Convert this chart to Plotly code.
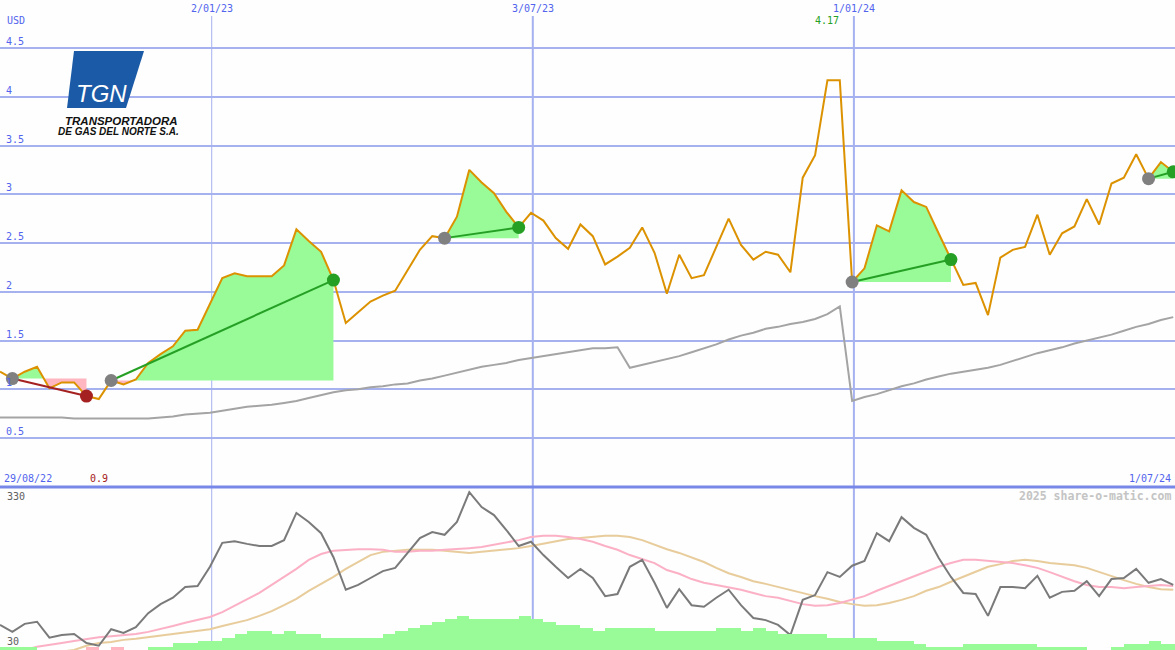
import plotly.graph_objects as go
import pandas as pd

W, H = 1175, 650

# ---------------- data (weekly) ----------------
dates = pd.date_range("2022-09-04", periods=96, freq="7D")

price = [1.18, 1.11, 1.18, 1.23, 1.01, 1.07, 1.07, 0.93, 0.90, 1.09,
         1.05, 1.10, 1.27, 1.36, 1.44, 1.60, 1.61, 1.88, 2.14, 2.19,
         2.16, 2.16, 2.16, 2.27, 2.64, 2.52, 2.41, 2.12, 1.68, 1.79,
         1.90, 1.96, 2.01, 2.22, 2.43, 2.57, 2.55, 2.77, 3.25, 3.12,
         3.01, 2.82, 2.66, 2.81, 2.73, 2.55, 2.44, 2.69, 2.57, 2.28,
         2.36, 2.45, 2.66, 2.40, 1.98, 2.38, 2.14, 2.17, 2.46, 2.75,
         2.48, 2.33, 2.41, 2.38, 2.20, 3.17, 3.40, 4.17, 4.17, 2.10,
         2.24, 2.68, 2.62, 3.04, 2.92, 2.87, 2.60, 2.33, 2.07, 2.09,
         1.76, 2.35, 2.43, 2.46, 2.79, 2.38, 2.60, 2.67, 2.95, 2.69,
         3.11, 3.17, 3.41, 3.16, 3.33, 3.23]

price_ma = [0.71, 0.71, 0.71, 0.71, 0.71, 0.71, 0.70, 0.70, 0.70, 0.70,
            0.70, 0.70, 0.70, 0.71, 0.72, 0.74, 0.75, 0.76, 0.78, 0.80,
            0.82, 0.83, 0.84, 0.86, 0.88, 0.91, 0.94, 0.97, 0.99, 1.00,
            1.02, 1.03, 1.05, 1.06, 1.09, 1.11, 1.14, 1.17, 1.20, 1.23,
            1.25, 1.27, 1.30, 1.32, 1.34, 1.36, 1.38, 1.40, 1.42, 1.42,
            1.43, 1.22, 1.25, 1.28, 1.31, 1.34, 1.38, 1.42, 1.46, 1.51,
            1.55, 1.58, 1.62, 1.64, 1.67, 1.69, 1.72, 1.77, 1.85, 0.88,
            0.92, 0.95, 0.99, 1.03, 1.06, 1.10, 1.13, 1.16, 1.18, 1.20,
            1.22, 1.25, 1.29, 1.33, 1.37, 1.40, 1.43, 1.47, 1.50, 1.53,
            1.56, 1.60, 1.64, 1.67, 1.71, 1.74]

indicator = [77, 64, 79, 83, 53, 58, 60, 43, 38, 69,
             62, 73, 99, 116, 128, 148, 150, 186, 231, 234,
             229, 225, 225, 236, 287, 270, 249, 204, 143, 152,
             165, 178, 184, 212, 240, 251, 246, 270, 326, 298,
             283, 255, 225, 233, 208, 186, 165, 182, 165, 131,
             135, 186, 199, 156, 109, 144, 114, 111, 128, 143,
             114, 90, 86, 77, 58, 124, 133, 176, 167, 188,
             197, 249, 234, 279, 259, 246, 203, 167, 137, 135,
             94, 148, 148, 146, 169, 128, 139, 141, 159, 131,
             163, 165, 182, 156, 163, 152]

ind_ma_short = [11, 21, 30, 36, 39, 43, 47, 51, 54, 56,
                58, 60, 64, 69, 75, 81, 86, 92, 101, 113,
                126, 137, 152, 167, 182, 199, 210, 216, 218, 219,
                219, 218, 214, 214, 216, 216, 218, 219, 221, 223,
                227, 231, 236, 242, 244, 244, 242, 238, 233, 225,
                218, 208, 201, 193, 180, 173, 163, 156, 152, 148,
                143, 137, 131, 128, 122, 116, 113, 114, 118, 124,
                131, 141, 150, 158, 167, 176, 186, 193, 199, 199,
                197, 195, 193, 189, 184, 176, 167, 159, 152, 148,
                148, 146, 148, 150, 152, 150]

ind_ma_long = [2, 9, 15, 21, 24, 28, 30, 38, 43, 45,
               49, 51, 54, 58, 60, 64, 66, 69, 75, 81,
               86, 94, 103, 114, 126, 141, 154, 167, 182, 195,
               208, 214, 216, 218, 218, 218, 216, 214, 212, 214,
               216, 218, 221, 225, 229, 233, 238, 240, 242, 244,
               244, 242, 236, 227, 219, 212, 204, 195, 184, 174,
               167, 159, 154, 148, 143, 137, 131, 126, 120, 116,
               113, 114, 118, 124, 131, 141, 148, 158, 167, 176,
               186, 191, 197, 199, 197, 193, 191, 189, 184, 176,
               169, 161, 154, 148, 144, 143]

volume = [3, 3, 3, 0, 0, 0, 0, 3, 0, 3,
          0, 0, 3, 3, 7, 7, 9, 9, 12, 16,
          19, 19, 16, 19, 16, 16, 12, 12, 12, 12,
          12, 16, 19, 22, 25, 28, 31, 34, 31, 31,
          31, 31, 34, 31, 28, 25, 25, 22, 19, 22,
          22, 22, 22, 19, 19, 19, 19, 19, 22, 22,
          19, 22, 19, 16, 16, 16, 16, 12, 12, 12,
          12, 9, 9, 9, 6, 3, 3, 3, 6, 6,
          6, 6, 6, 6, 3, 3, 3, 3, 0, 0,
          3, 6, 6, 9, 6, 6]
down_weeks = [7, 9]

trade_buy = [1, 9, 36, 69, 93]
trade_sell = [7, 27, 42, 77, 95]

y_ticks = [4.5, 4, 3.5, 3, 2.5, 2, 1.5, 1, 0.5]
y_tick_labels = ["4.5", "4", "3.5", "3", "2.5", "2", "1.5", "1", "0.5"]
x_ticks = ["2023-01-02", "2023-07-03", "2024-01-01"]
x_tick_labels = ["2/01/23", "3/07/23", "1/01/24"]
x_tick_widths = [1, 2, 2]

# ---------------- styles ----------------
BG = "#fdfefd"
GRID = "#a6b2f0"
BLUE = "#5264ee"
ORANGE = "#dc9200"
GREENFILL = "#98fb98"
PINKFILL = "#ffb6c1"
GREEN = "#25a025"
RED = "#a52020"
GRAYDOT = "#808080"
MONO = "DejaVu Sans Mono"


def py(y):
    return 1 - y / H


def pxx(x):
    return x / W


fig = go.Figure()

# trade fills
for b, s in zip(trade_buy, trade_sell):
    L = price[b]
    xs, hi, lo = [], [], []
    for k in range(b, s + 1):
        if k > b:
            p0, p1 = price[k - 1], price[k]
            if (p0 - L) * (p1 - L) < 0:
                t = (L - p0) / (p1 - p0)
                xc = dates[k - 1] + (dates[k] - dates[k - 1]) * t
                xs.append(xc)
                hi.append(L)
                lo.append(L)
        xs.append(dates[k])
        hi.append(max(price[k], L))
        lo.append(min(price[k], L))
    for ys, col in ((hi, GREENFILL), (lo, PINKFILL)):
        fig.add_trace(go.Scatter(
            x=list(xs) + list(xs[::-1]), y=ys + [L] * len(xs),
            fill="toself", fillcolor=col, mode="lines",
            line=dict(width=0, color=col), hoverinfo="skip"))

# long moving average of price
fig.add_trace(go.Scatter(x=dates, y=price_ma, mode="lines",
                         line=dict(color="#a4a4a4", width=2)))
# price
fig.add_trace(go.Scatter(x=dates, y=price, mode="lines",
                         line=dict(color=ORANGE, width=2)))

# trade lines and dots
for b, s in zip(trade_buy, trade_sell):
    win = price[s] >= price[b]
    col = GREEN if win else RED
    fig.add_trace(go.Scatter(x=[dates[b], dates[s]], y=[price[b], price[s]],
                             mode="lines", line=dict(color=col, width=2)))
    fig.add_trace(go.Scatter(x=[dates[b]], y=[price[b]], mode="markers",
                             marker=dict(color=GRAYDOT, size=13)))
    fig.add_trace(go.Scatter(x=[dates[s]], y=[price[s]], mode="markers",
                             marker=dict(color=col, size=13)))

# volume bars (bottom panel)
vol_colors = [PINKFILL if i in down_weeks else GREENFILL for i in range(len(volume))]
fig.add_trace(go.Bar(x=dates, y=volume, yaxis="y3", width=7 * 86400000, offset=0,
                     marker=dict(color=vol_colors, line=dict(width=0))))

# indicator panel lines
fig.add_trace(go.Scatter(x=dates, y=ind_ma_long, yaxis="y2", mode="lines",
                         line=dict(color="#e8cc9c", width=2)))
fig.add_trace(go.Scatter(x=dates, y=ind_ma_short, yaxis="y2", mode="lines",
                         line=dict(color="#fbb0c6", width=2)))
fig.add_trace(go.Scatter(x=dates, y=indicator, yaxis="y2", mode="lines",
                         line=dict(color="#7a7a7a", width=2)))

shapes = []
# vertical date lines
for d, w in zip(x_ticks, x_tick_widths):
    shapes.append(dict(type="line", xref="x", yref="paper", x0=d, x1=d,
                       y0=0, y1=py(16), line=dict(color=GRID, width=w), layer="between"))
# logo background and emblem
shapes.append(dict(type="rect", xref="paper", yref="paper",
                   x0=pxx(35), x1=pxx(203), y0=py(152), y1=py(40),
                   fillcolor=BG, line=dict(width=0), layer="between"))
shapes.append(dict(type="path", xref="paper", yref="paper",
                   path="M {} {} L {} {} L {} {} L {} {} Z".format(
                       pxx(74), py(51), pxx(144), py(51), pxx(126), py(108), pxx(67), py(108)),
                   fillcolor="#1b5aa6", line=dict(width=0), layer="above"))
# panel separator
shapes.append(dict(type="line", xref="paper", yref="paper", x0=0, x1=1,
                   y0=py(487), y1=py(487), line=dict(color="#7888e8", width=3), layer="above"))

ann = []
ann.append(dict(x=pxx(5), y=py(20), xref="paper", yref="paper", text="USD",
                showarrow=False, xanchor="left", yanchor="middle",
                font=dict(family=MONO, size=10, color=BLUE)))
for v, t in zip(y_ticks, y_tick_labels):
    ann.append(dict(x=pxx(4), y=v, xref="paper", yref="y", text=t, showarrow=False,
                    xanchor="left", yanchor="bottom", yshift=-1,
                    font=dict(family=MONO, size=10, color=BLUE)))
for d, t in zip(x_ticks, x_tick_labels):
    ann.append(dict(x=d, y=py(8), xref="x", yref="paper", text=t, showarrow=False,
                    xanchor="center", yanchor="middle",
                    font=dict(family=MONO, size=10, color=BLUE)))
ann.append(dict(x=pxx(2), y=py(478), xref="paper", yref="paper", text="29/08/22",
                showarrow=False, xanchor="left", yanchor="middle",
                font=dict(family=MONO, size=10, color=BLUE)))
ann.append(dict(x=pxx(1173), y=py(478), xref="paper", yref="paper", text="1/07/24",
                showarrow=False, xanchor="right", yanchor="middle",
                font=dict(family=MONO, size=10, color=BLUE)))
imin = price.index(min(price))
imax = price.index(max(price))
ann.append(dict(x=dates[imin], y=py(478), xref="x", yref="paper",
                text="{:g}".format(min(price)), showarrow=False,
                xanchor="center", yanchor="middle",
                font=dict(family=MONO, size=10, color=RED)))
ann.append(dict(x=dates[imax], y=py(21), xref="x", yref="paper",
                text="{:g}".format(max(price)), showarrow=False,
                xanchor="center", yanchor="middle",
                font=dict(family=MONO, size=10, color=GREEN)))
ann.append(dict(x=pxx(5), y=py(496), xref="paper", yref="paper", text="330",
                showarrow=False, xanchor="left", yanchor="middle",
                font=dict(family=MONO, size=10, color="#606060")))
ann.append(dict(x=pxx(5), y=py(641), xref="paper", yref="paper", text="30",
                showarrow=False, xanchor="left", yanchor="middle",
                font=dict(family=MONO, size=10, color="#606060")))
ann.append(dict(x=pxx(1173), y=py(496), xref="paper", yref="paper",
                text="<b>2025 share-o-matic.com</b>", showarrow=False,
                xanchor="right", yanchor="middle",
                font=dict(family=MONO, size=11.5, color="#c4c4c4")))
# logo texts
ann.append(dict(x=pxx(101), y=py(93), xref="paper", yref="paper", text="<i>TGN</i>",
                showarrow=False, xanchor="center", yanchor="middle",
                font=dict(family="Liberation Sans", size=24, color="white")))
ann.append(dict(x=pxx(121), y=py(121), xref="paper", yref="paper",
                text="<b><i>TRANSPORTADORA</i></b>", showarrow=False,
                xanchor="center", yanchor="middle",
                font=dict(family="Liberation Sans", size=11.5, color="#111111")))
ann.append(dict(x=pxx(118), y=py(132), xref="paper", yref="paper",
                text="<b><i>DE GAS DEL NORTE S.A.</i></b>", showarrow=False,
                xanchor="center", yanchor="middle",
                font=dict(family="Liberation Sans", size=10, color="#111111")))

fig.update_layout(
    width=W, height=H, margin=dict(l=0, r=0, t=0, b=0),
    paper_bgcolor=BG, plot_bgcolor=BG, showlegend=False, bargap=0,
    xaxis=dict(type="date", range=["2022-09-04", "2024-07-01"], showgrid=False,
               showticklabels=False, zeroline=False, ticks="", showline=False),
    yaxis=dict(domain=[163.25 / H, 1], range=[0, 486.75 / 97.5], dtick=0.5, tick0=0,
               showgrid=True, gridcolor=GRID, gridwidth=2, showticklabels=False,
               zeroline=False, ticks=""),
    yaxis2=dict(domain=[0, 160 / H], range=[30, 330], showgrid=False,
                showticklabels=False, zeroline=False, anchor="x"),
    yaxis3=dict(overlaying="y2", range=[0, 160], visible=False, anchor="x"),
    shapes=shapes, annotations=ann,
)

fig.write_html("out.html", config={"displayModeBar": False},
               post_script="document.body.style.margin='0';document.body.style.overflow='hidden';")
